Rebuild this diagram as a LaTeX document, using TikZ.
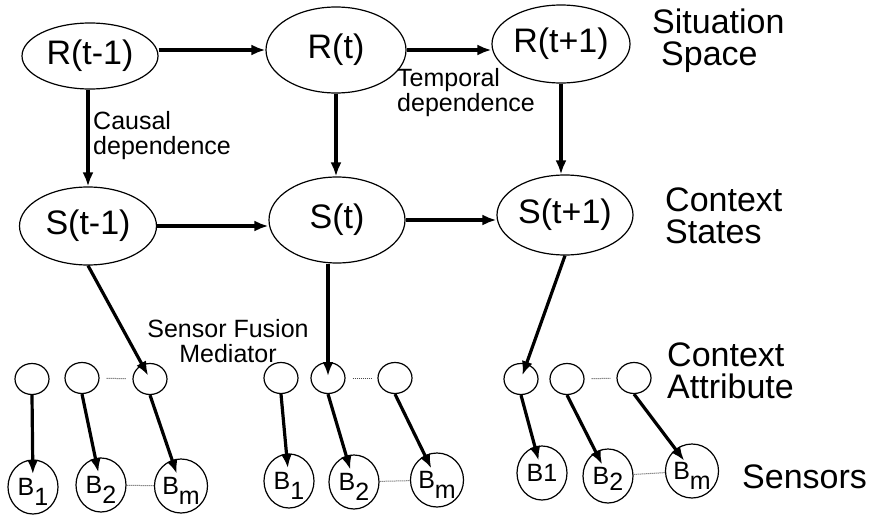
\documentclass[tikz,border=0pt]{standalone}
\usepackage{fontspec}
\setmainfont{Liberation Sans}
\usetikzlibrary{shapes.geometric,arrows.meta}
\newcommand{\lowsub}[1]{\raisebox{-0.4em}[0pt][0pt]{#1}}

\begin{document}
\begin{tikzpicture}[x=1pt,y=-1pt,>={Latex[length=14pt,width=11pt]},
  state/.style={ellipse,draw,line width=1.2pt,inner sep=0pt,font=\fontsize{34}{34}\selectfont},
  attr/.style={ellipse,draw,line width=1.2pt,minimum width=34,minimum height=31,inner sep=0pt},
  sensor/.style={ellipse,draw,line width=1.2pt,minimum width=50,minimum height=54,inner sep=0pt,font=\fontsize{25}{25}\selectfont},
  dep/.style={line width=3.2pt},
  link/.style={densely dotted,line width=1pt,black!70},
  small/.style={inner sep=0pt,align=left,font=\fontsize{25}{25}\selectfont},
  level/.style={inner sep=0pt,align=left,anchor=west,font=\fontsize{34}{32}\selectfont}]
\useasboundingbox (0,0) rectangle (872,519);
% situation space and context states
\node (rm) at (90,56) [state,minimum width=136,minimum height=66] {R(t-1)};
\node (r0) at (336,50) [state,minimum width=140,minimum height=86] {R(t)};
\node (rp) at (561,44) [state,minimum width=138,minimum height=78] {R(t+1)};
\node (sm) at (88,226) [state,minimum width=137,minimum height=78] {S(t-1)};
\node (s0) at (337,220) [state,minimum width=136,minimum height=86] {S(t)};
\node (sp) at (565,215) [state,minimum width=136,minimum height=80] {S(t+1)};
% context attributes
\node (a11) at (32,379) [attr] {};
\node (a12) at (82,378) [attr] {};
\node (a13) at (150,379) [attr] {};
\node (a21) at (281,378) [attr] {};
\node (a22) at (328,378) [attr] {};
\node (a23) at (395,378) [attr] {};
\node (a31) at (521,379) [attr] {};
\node (a32) at (567,379) [attr] {};
\node (a33) at (634,378) [attr] {};
% sensors
\node (b11) at (33,487) [sensor] {B\lowsub{1}};
\node (b12) at (101,485) [sensor] {B\lowsub{2}};
\node (b13) at (181,486) [sensor] {B\lowsub{m}};
\node (b21) at (289,481) [sensor] {B\lowsub{1}};
\node (b22) at (354,482) [sensor] {B\lowsub{2}};
\node (b23) at (437,480) [sensor] {B\lowsub{m}};
\node (b31) at (542,473) [sensor] {B1};
\node (b32) at (608,476) [sensor] {B\raisebox{-0.25em}[0pt][0pt]{2}};
\node (b33) at (692,471) [sensor] {B\lowsub{m}};
% labels
\node (causal) at (93,136) [small,anchor=west] {Causal\\dependence};
\node (temporal) at (397,93) [small,anchor=west] {Temporal\\dependence};
\node (fusion) at (228,341) [small,align=center] {Sensor Fusion\\Mediator};
\node (situation) at (652,41) [level] {Situation\\\hspace{9pt}Space};
\node (context) at (665,216) [level] {Context\\States};
\node (attribute) at (667,371) [level] {Context\\Attribute};
\node (sensors) at (742,477) [level] {Sensors};
% dependences
\draw[->,dep] (rm.east |- r0.west) -- (r0.west);
\draw[->,dep] (r0.east) -- (r0.east -| rp.west);
\draw[->,dep] (sm.east) -- (sm.east -| s0.west);
\draw[->,dep] (s0.east) -- (s0.east -| sp.west);
\draw[->,dep] (rm.south -| sm.north) -- (sm.north);
\draw[->,dep] (r0.south) -- (r0.south |- s0.north);
\draw[->,dep] (rp.south) -- (rp.south |- sp.north);
\draw[->,dep,shorten >=4pt] (sm.south) -- (a13.center);
\draw[->,dep,shorten >=2pt] (s0.south -| a22) -- (a22.center);
\draw[->,dep,shorten >=4pt] (sp.south) -- (a31.center);
\draw[->,dep,shorten >=13pt] (a11.south) -- (b11.center);
\draw[->,dep,shorten >=13pt] (a12.south) -- (b12.center);
\draw[->,dep,shorten >=13pt] (a13.south) -- (b13.center);
\draw[->,dep,shorten >=13pt] (a21.south) -- (b21.center);
\draw[->,dep,shorten >=13pt] (a22.south) -- (b22.center);
\draw[->,dep,shorten >=13pt] (a23.south) -- (b23.center);
\draw[->,dep,shorten >=13pt] (a31.south) -- (b31.center);
\draw[->,dep,shorten >=13pt] (a32.south) -- (b32.center);
\draw[->,dep,shorten >=13pt] (a33.south) -- (b33.center);
% dotted links
\draw[link,shorten <=7pt,shorten >=6pt] (a12) -- (a13);
\draw[link,shorten <=7pt,shorten >=6pt] (a22) -- (a23);
\draw[link,shorten <=7pt,shorten >=6pt] (a32) -- (a33);
\draw[link] (b12) -- (b13);
\draw[link] (b22) -- (b23);
\draw[link] (b32) -- (b33);
\end{tikzpicture}
\end{document}
